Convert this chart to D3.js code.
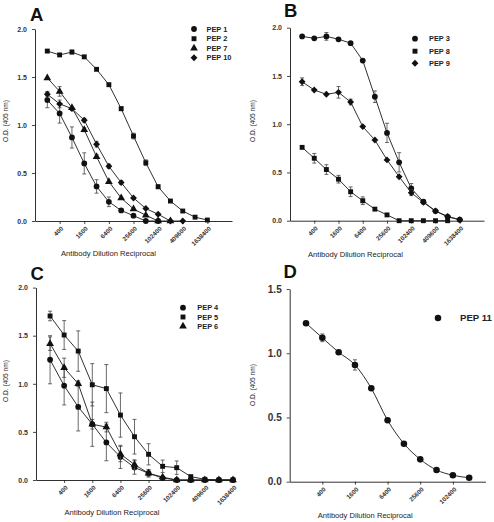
<!DOCTYPE html>
<html><head><meta charset="utf-8">
<script src="https://cdn.jsdelivr.net/npm/d3@7"></script>
<style>
body{margin:0;background:#fff;}
svg{display:block;font-family:"Liberation Sans",Arial,sans-serif;}
</style></head>
<body><svg id="c" width="494" height="522"></svg>
<script>
// ---------- data ----------
const dilutions = [200,400,800,1600,3200,6400,12800,25600,51200,102400,204800,409600,819200,1638400];
const tickLabels = ["400","1600","6400","25600","102400","409600","1638400"];
const tickLabelsD = ["400","1600","6400","25600","102400"];
const yTicks = [0,0.5,1.0,1.5,2.0];
const yTicksD = [0,0.5,1.0,1.5];

// Panel A
const pep1 = [1.26,1.12,0.87,0.60,0.36,0.20,0.11,0.055,0,0];
const pep1Err = [0.08,0.10,0.11,0.11,0.07,0.05,0.02,0.01,0,0];
const pep2 = [1.77,1.73,1.76,1.71,1.58,1.42,1.17,0.885,0.607,0.357,0.208,0.104,0.04,0.01];
const pep2Err = [0.01,0.01,0.02,0.01,0.01,0.01,0.02,0.03,0.03,0.02,0.01,0.01,0.01,0];
const pep7 = [1.49,1.35,1.18,0.95,0.67,0.41,0.24,0.125,0.06,0,0];
const pep7Err = [0.01,0.05,0.01,0.02,0.02,0.01,0.01,0.01,0,0,0];
const pep10 = [1.32,1.22,1.17,1.05,0.80,0.57,0.40,0.24,0.13,0.07,0,0];
const pep10Err = [0.03,0.04,0.02,0.02,0.03,0.02,0.02,0.01,0.01,0,0,0];

// Panel B
const pep3 = [1.91,1.89,1.91,1.88,1.84,1.66,1.285,0.91,0.605,0.335,0.197,0.10,0.04,0.01];
const pep3Err = [0.01,0.01,0.04,0.01,0.01,0.01,0.06,0.10,0.10,0.05,0.02,0.01,0,0];
const pep8 = [0.76,0.647,0.53,0.43,0.30,0.207,0.12,0.06,0,0,0,0,0];
const pep8Err = [0.01,0.05,0.05,0.04,0.05,0.04,0.01,0.01,0,0,0,0,0];
const pep9 = [1.44,1.354,1.31,1.33,1.23,0.975,0.836,0.63,0.456,0.29,0.19,0.10,0.045,0.01];
const pep9Err = [0.04,0.01,0.01,0.06,0.03,0.01,0.01,0.01,0.01,0.03,0.01,0.01,0,0];

// Panel C
const pep4 = [1.25,0.98,0.76,0.58,0.39,0.24,0.13,0.07,0.02,0,0,0,0,0];
const pep4Err = [0.25,0.20,0.25,0.23,0.19,0.12,0.07,0.04,0.01,0,0,0,0,0];
const pep5 = [1.705,1.507,1.34,0.99,0.95,0.675,0.45,0.267,0.142,0.128,0.035,0.007,0,0];
const pep5Err = [0.05,0.15,0.21,0.22,0.25,0.23,0.18,0.11,0.065,0.07,0.01,0,0,0];
const pep6 = [1.417,1.167,1.0,0.58,0.55,0.27,0.16,0.07,0.03,0,0,0,0,0];
const pep6Err = [0.07,0.10,0.03,0.05,0.05,0.08,0.05,0.03,0.01,0,0,0,0,0];

// Panel D
const pep11 = [1.234,1.12,1.008,0.909,0.727,0.478,0.296,0.174,0.091,0.05,0.031];
const pep11Err = [0.01,0.03,0.01,0.04,0.01,0.01,0.01,0.01,0.01,0.01,0.01];

// ---------- drawing ----------
const svg = d3.select("#c");
const FONT = '"Liberation Sans",Arial,sans-serif';
const INK = "#1a1a1a";
const diamond = d3.symbolDiamond2 || d3.symbolDiamond;
const SYM = {circle:d3.symbolCircle, square:d3.symbolSquare, triangle:d3.symbolTriangle, diamond:diamond};
const SYMSIZE = {circle:26, square:24, triangle:26, diamond:30};

function panel(cfg){
  const g = svg.append("g");
  const x = d3.scaleLog().domain(cfg.xdom).range([cfg.x0, cfg.x1]);
  const y = d3.scaleLinear().domain(cfg.ydom).range([cfg.yBot, cfg.yTop]);

  // x axis
  const xa = g.append("g").attr("transform",`translate(0,${cfg.yBot})`)
    .call(d3.axisBottom(x).tickValues(cfg.ticks.map(Number)).tickFormat(d=>String(d)).tickSize(3).tickSizeOuter(0));
  xa.select(".domain").attr("stroke",INK).attr("stroke-width",0.9);
  xa.selectAll(".tick line").attr("stroke",INK).attr("stroke-width",0.8);
  xa.selectAll("text").attr("x",0).attr("y",0).attr("dy",0)
    .attr("text-anchor","end").attr("transform","translate(3.5,8) rotate(-45)")
    .attr("font-size",cfg.xtf).attr("font-weight","bold").attr("fill","#333").attr("font-family",FONT);

  // y axis
  const ya = g.append("g").attr("transform",`translate(${cfg.x0},0)`)
    .call(d3.axisLeft(y).tickValues(cfg.yTicks).tickFormat(d3.format(".1f")).tickSize(3).tickPadding(cfg.ytp).tickSizeOuter(0));
  ya.select(".domain").attr("stroke",INK).attr("stroke-width",0.9);
  ya.selectAll(".tick line").attr("stroke",INK).attr("stroke-width",0.8);
  ya.selectAll("text").attr("font-size",cfg.ytf).attr("font-weight","bold").attr("fill","#333").attr("font-family",FONT);

  // titles
  g.append("text").attr("x",cfg.xtX).attr("y",cfg.xtY).attr("text-anchor","middle")
    .attr("font-size",7.6).attr("fill","#222").text("Antibody Dilution Reciprocal");
  g.append("text").attr("transform",`translate(${cfg.ytX},${cfg.ytY}) rotate(-90)`).attr("text-anchor","middle")
    .attr("font-size",6.6).attr("fill","#222").text("O.D. (405 nm)");
  g.append("text").attr("x",cfg.letX).attr("y",cfg.letY).attr("font-size",18.5).attr("font-weight","bold")
    .attr("fill","#111").text(cfg.letter);

  const line = d3.line().x((d,i)=>x(dilutions[i])).y(d=>y(d)).curve(cfg.curve||d3.curveLinear);
  cfg.series.forEach(s=>{
    g.append("path").datum(s.vals).attr("d",line).attr("fill","none").attr("stroke",INK).attr("stroke-width",0.9);
  });
  cfg.series.forEach(s=>{
    const eg = g.append("g").attr("stroke","#444").attr("stroke-width",0.8);
    s.vals.forEach((v,i)=>{
      const e = s.err[i]; if(!e || e < 0.015) return;
      const cx = x(dilutions[i]);
      eg.append("line").attr("x1",cx).attr("x2",cx).attr("y1",y(v-e)).attr("y2",y(v+e));
      eg.append("line").attr("x1",cx-2).attr("x2",cx+2).attr("y1",y(v-e)).attr("y2",y(v-e));
      eg.append("line").attr("x1",cx-2).attr("x2",cx+2).attr("y1",y(v+e)).attr("y2",y(v+e));
    });
    g.append("g").selectAll("path").data(s.vals).join("path")
      .attr("transform",(d,i)=>`translate(${x(dilutions[i])},${y(d)})`)
      .attr("d",d3.symbol().type(SYM[s.sym]).size(SYMSIZE[s.sym]*(cfg.symScale||1)))
      .attr("fill","#111");
  });

  // legend
  cfg.series.forEach((s,i)=>{
    const ly = cfg.legY[i];
    g.append("path").attr("transform",`translate(${cfg.legSX},${ly})`)
      .attr("d",d3.symbol().type(SYM[s.sym]).size(SYMSIZE[s.sym]*(cfg.symScale||1))).attr("fill","#111");
    g.append("text").attr("x",cfg.legTX).attr("y",ly).attr("dy","0.35em")
      .attr("font-size",cfg.legFont).attr("font-weight","bold").attr("fill","#222").text(s.name);
  });
}

panel({letter:"A", letX:30, letY:20.5,
  x0:35, x1:232, xdom:[100,6553600], yTop:29, yBot:221, ydom:[0,2],
  ticks:tickLabels, yTicks:yTicks, xtf:6.3, ytf:7, ytp:5,
  xtX:108.5, xtY:256, ytX:8, ytY:121,
  legSX:194, legTX:206.5, legY:[29,38.7,48.3,57.7], legFont:7.4,
  series:[
    {name:"PEP 1", vals:pep1, err:pep1Err, sym:"circle"},
    {name:"PEP 2", vals:pep2, err:pep2Err, sym:"square"},
    {name:"PEP 7", vals:pep7, err:pep7Err, sym:"triangle"},
    {name:"PEP 10", vals:pep10, err:pep10Err, sym:"diamond"}
  ]});

panel({letter:"B", letX:284, letY:17,
  x0:290, x1:484, xdom:[100,6553600], yTop:27.7, yBot:220.7, ydom:[0,2],
  ticks:tickLabels, yTicks:yTicks, xtf:6.3, ytf:7, ytp:5,
  xtX:355.5, xtY:256.7, ytX:255, ytY:121,
  legSX:415, legTX:429, legY:[38.7,51.2,63.3], legFont:7.4,
  series:[
    {name:"PEP 3", vals:pep3, err:pep3Err, sym:"circle"},
    {name:"PEP 8", vals:pep8, err:pep8Err, sym:"square"},
    {name:"PEP 9", vals:pep9, err:pep9Err, sym:"diamond"}
  ]});

panel({letter:"C", letX:30.5, letY:279.5,
  x0:36, x1:233, xdom:[100,1638400], yTop:287.6, yBot:480, ydom:[0,2],
  ticks:tickLabels, yTicks:yTicks, xtf:6.3, ytf:7, ytp:5,
  xtX:112, xtY:515, ytX:8, ytY:381,
  legSX:183, legTX:197.3, legY:[307.7,317,326.3], legFont:7.4,
  series:[
    {name:"PEP 4", vals:pep4, err:pep4Err, sym:"circle"},
    {name:"PEP 5", vals:pep5, err:pep5Err, sym:"square"},
    {name:"PEP 6", vals:pep6, err:pep6Err, sym:"triangle"}
  ]});

panel({letter:"D", letX:283.5, letY:278,
  x0:289.7, x1:485.5, xdom:[100,409600], yTop:289, yBot:481.7, ydom:[0,1.5],
  ticks:tickLabelsD, yTicks:yTicksD, xtf:6.3, ytf:10, ytp:5,
  xtX:365.3, xtY:517.7, ytX:255, ytY:385,
  legSX:438, legTX:460, legY:[318], legFont:9.6, symScale:1.3,
  curve:d3.curveMonotoneX,
  series:[
    {name:"PEP 11", vals:pep11, err:pep11Err, sym:"circle"}
  ]});
</script></body></html>
